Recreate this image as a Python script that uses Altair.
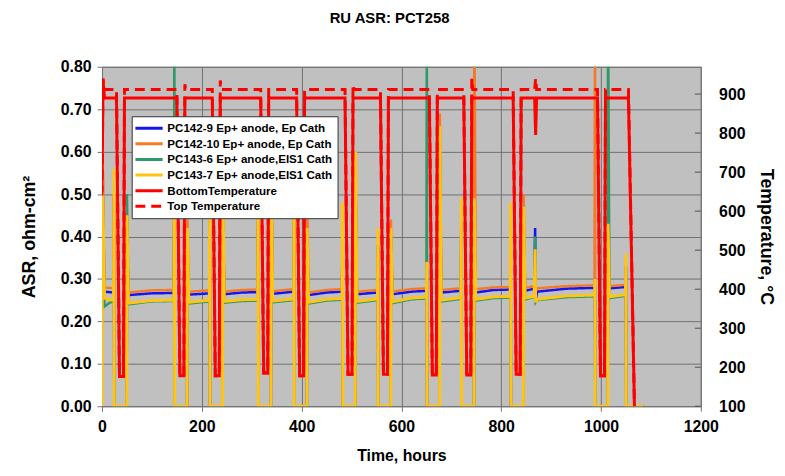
import altair as alt
import pandas as pd

# ---------------- data ----------------
series_names = [
    "PC142-9 Ep+ anode, Ep Cath",
    "PC142-10 Ep+ anode, Ep Cath",
    "PC143-6 Ep+ anode,EIS1 Cath",
    "PC143-7 Ep+ anode,EIS1 Cath",
    "BottomTemperature",
    "Top Temperature",
]
series_colors = ["#1414F0", "#F57A28", "#2E9A6A", "#FFC414", "#FF0000", "#FF0000"]
series_dashes = [[1, 0], [1, 0], [1, 0], [1, 0], [1, 0], [10, 6]]

x_ticks = [0, 200, 400, 600, 800, 1000, 1200]
asr_ticks = [0.0, 0.1, 0.2, 0.3, 0.4, 0.5, 0.6, 0.7, 0.8]
temp_ticks = [100, 200, 300, 400, 500, 600, 700, 800, 900]

asr_hours = [
    0, 0.5, 3, 5, 14, 23,
    24, 24.5, 49.5, 50, 53, 98, 144,
    145, 145.5, 170.5, 171, 174, 215,
    216, 216.5, 241.5, 242, 245, 280, 312,
    313, 313.5, 338.5, 339, 342, 384,
    385, 385.5, 410.5, 411, 414, 450, 481,
    482, 482.5, 507.5, 508, 511, 552,
    553, 553.5, 578.5, 579, 582, 620, 650,
    651, 651.5, 676.5, 677, 680, 719,
    720, 720.5, 745.5, 746, 749, 785, 818,
    819, 819.5, 844.5, 845, 848, 866, 868, 869, 872, 930, 987,
    988, 988.5, 1013.5, 1014, 1017, 1049,
    1050, 1050.5, 1085,
]

asr_pc142_9 = [
    0.67, 0.66, 0.42, 0.270, 0.269, 0.268,
    0.50, 0, 0, 0.40, 0.262, 0.266, 0.267,
    0.55, 0, 0, 0.38, 0.263, 0.266,
    0.50, 0, 0, 0.50, 0.264, 0.268, 0.269,
    0.52, 0, 0, 0.58, 0.265, 0.270,
    0.45, 0, 0, 0.40, 0.262, 0.268, 0.270,
    0.44, 0, 0, 0.55, 0.264, 0.268,
    0.38, 0, 0, 0.40, 0.264, 0.270, 0.272,
    0.30, 0, 0, 0.60, 0.268, 0.272,
    0.44, 0, 0, 0.44, 0.268, 0.274, 0.275,
    0.44, 0, 0, 0.44, 0.272, 0.277, 0.42, 0.25, 0.270, 0.277, 0.279,
    0.28, 0, 0, 0.40, 0.278, 0.281,
    0.33, 0, 0,
]

asr_pc142_10 = [
    0.64, 0.64, 0.35, 0.280, 0.279, 0.278,
    0.50, 0, 0, 0.40, 0.268, 0.273, 0.274,
    0.55, 0, 0, 0.45, 0.270, 0.273,
    0.50, 0, 0, 0.50, 0.270, 0.274, 0.275,
    0.52, 0, 0, 0.58, 0.271, 0.276,
    0.45, 0, 0, 0.50, 0.268, 0.274, 0.276,
    0.44, 0, 0, 0.55, 0.270, 0.274,
    0.38, 0, 0, 0.44, 0.270, 0.276, 0.278,
    0.30, 0, 0, 0.69, 0.274, 0.278,
    0.44, 0, 0, 1.00, 0.276, 0.280, 0.281,
    0.44, 0, 0, 0.50, 0.279, 0.283, 0.30, 0.27, 0.278, 0.283, 0.285,
    1.00, 0, 0, 0.40, 0.283, 0.286,
    0.33, 0, 0,
]

asr_pc143_6 = [
    0.50, 0.40, 0.37, 0.235, 0.243, 0.248,
    0.31, 0, 0, 0.50, 0.240, 0.247, 0.248,
    1.00, 0, 0, 0.38, 0.242, 0.247,
    0.50, 0, 0, 0.50, 0.244, 0.248, 0.249,
    0.52, 0, 0, 0.58, 0.245, 0.250,
    0.45, 0, 0, 0.40, 0.242, 0.249, 0.251,
    0.44, 0, 0, 0.55, 0.244, 0.250,
    0.38, 0, 0, 0.40, 0.243, 0.252, 0.254,
    1.00, 0, 0, 0.60, 0.247, 0.253,
    0.44, 0, 0, 0.44, 0.249, 0.255, 0.256,
    0.44, 0, 0, 0.44, 0.252, 0.257, 0.40, 0.245, 0.250, 0.257, 0.259,
    0.28, 0, 0, 1.00, 0.255, 0.260,
    0.33, 0, 0,
]

asr_pc143_7 = [
    0, 0.63, 0.40, 0.255, 0.251, 0.250,
    0.56, 0, 0, 0.45, 0.243, 0.249, 0.250,
    0.60, 0, 0, 0.42, 0.245, 0.250,
    0.55, 0, 0, 0.55, 0.247, 0.251, 0.252,
    0.57, 0, 0, 0.63, 0.248, 0.253,
    0.50, 0, 0, 0.42, 0.245, 0.252, 0.254,
    0.48, 0, 0, 0.60, 0.247, 0.253,
    0.42, 0, 0, 0.42, 0.246, 0.255, 0.257,
    0.34, 0, 0, 0.66, 0.250, 0.256,
    0.49, 0, 0, 0.49, 0.252, 0.258, 0.259,
    0.48, 0, 0, 0.47, 0.255, 0.259, 0.37, 0.245, 0.252, 0.260, 0.262,
    0.30, 0, 0, 0.43, 0.258, 0.263,
    0.36, 0, 0,
]

bottom_hours = [
    0, 2, 5,
    29, 35, 43, 45,
    150, 156, 164, 166,
    221, 227, 235, 237,
    318, 324, 332, 334,
    390, 396, 404, 406,
    487, 493, 501, 503,
    558, 564, 572, 574,
    656, 662, 670, 672,
    725, 731, 739, 741,
    824, 830, 838, 840,
    867, 869, 871,
    993, 999, 1007, 1009,
    1055, 1067,
]
bottom_temp = [
    650, 935, 890,
    890, 176, 176, 890,
    890, 178, 178, 890,
    890, 178, 178, 890,
    890, 185, 185, 890,
    890, 178, 178, 890,
    890, 182, 182, 890,
    890, 182, 182, 890,
    890, 180, 180, 890,
    890, 180, 180, 890,
    890, 182, 182, 890,
    890, 795, 890,
    890, 178, 178, 890,
    890, 100,
]

top_hours = [
    0, 2, 6,
    29, 35, 43, 45,
    150, 156, 164, 166, 168,
    221, 227, 235, 237, 239,
    318, 324, 332, 334,
    390, 396, 404, 406,
    487, 493, 501, 503, 505,
    558, 564, 572, 574,
    656, 662, 670, 672,
    725, 731, 739, 741, 743,
    824, 830, 838, 840,
    867, 869, 871,
    993, 999, 1007, 1009,
    1055, 1067,
]
top_temp = [
    640, 940, 912,
    912, 176, 176, 912,
    912, 178, 178, 925, 912,
    912, 178, 178, 935, 912,
    912, 185, 185, 912,
    912, 178, 178, 912,
    912, 182, 182, 925, 912,
    912, 182, 182, 912,
    912, 180, 180, 912,
    912, 180, 180, 940, 912,
    912, 182, 182, 912,
    912, 940, 912,
    912, 178, 178, 912,
    912, 100,
]

# ---------------- chart ----------------
FONT = "Liberation Sans"

color_scale = alt.Scale(domain=series_names, range=series_colors)
dash_scale = alt.Scale(domain=series_names, range=series_dashes)
legend = alt.Legend(
    title=None,
    orient="none",
    legendX=30,
    legendY=50,
    fillColor="white",
    strokeColor="#333333",
    padding=5,
    labelFont=FONT,
    labelFontWeight="bold",
    labelFontSize=11.7,
    labelLimit=300,
    labelColor="black",
    symbolType="M-1.5,0L3.5,0",
    symbolSize=121,
    symbolStrokeWidth=3,
    labelOffset=17,
    rowPadding=1.8,
)

x_enc = alt.X(
    "hours:Q",
    scale=alt.Scale(domain=[0, 1200], nice=False),
    axis=alt.Axis(
        values=x_ticks,
        format="d",
        labelFlush=False,
        title="Time, hours",
        grid=True,
        gridColor="#707070",
        domain=False,
        tickSize=5,
        tickColor="#707070",
        labelPadding=8,
        labelFontSize=16,
        titleFontSize=16,
        titlePadding=13,
    ),
)
asr_y = alt.Y(
    "asr:Q",
    scale=alt.Scale(domain=[0, 0.8], nice=False, zero=False),
    axis=alt.Axis(
        values=asr_ticks,
        format=".2f",
        labelFlush=False,
        title="ASR, ohm-cm²",
        grid=True,
        gridColor="#707070",
        domain=False,
        tickSize=5,
        tickColor="#707070",
        labelPadding=6,
        labelFontSize=16,
        titleFontSize=18,
        titlePadding=22,
    ),
)
temp_y = alt.Y(
    "temp:Q",
    scale=alt.Scale(domain=[100, 970], nice=False, zero=False),
    axis=alt.Axis(
        orient="right",
        values=temp_ticks,
        labelFlush=False,
        title="Temperature, °C",
        grid=False,
        domain=False,
        ticks=False,
        labelPadding=18,
        labelFontSize=16,
        titleFontSize=18,
        titlePadding=12,
    ),
)


def asr_layer(name, values, width):
    df = pd.DataFrame({"hours": asr_hours, "asr": values, "series": name})
    return alt.Chart(df).mark_line(clip=True, strokeWidth=width).encode(
        x=x_enc,
        y=asr_y,
        color=alt.Color("series:N", scale=color_scale, legend=legend),
        strokeDash=alt.StrokeDash("series:N", scale=dash_scale, legend=legend),
    )


def temp_layer(name, hours, values):
    df = pd.DataFrame({"hours": hours, "temp": values, "series": name})
    return alt.Chart(df).mark_line(clip=True, strokeWidth=3).encode(
        x=x_enc,
        y=temp_y,
        color=alt.Color("series:N", scale=color_scale, legend=legend),
        strokeDash=alt.StrokeDash("series:N", scale=dash_scale, legend=legend),
    )


left = alt.layer(
    asr_layer(series_names[0], asr_pc142_9, 2.5),
    asr_layer(series_names[1], asr_pc142_10, 2.5),
    asr_layer(series_names[2], asr_pc143_6, 2.5),
    asr_layer(series_names[3], asr_pc143_7, 3),
)

tick_df = pd.DataFrame({"temp": temp_ticks})
right_ticks = alt.Chart(tick_df).mark_rule(color="#505050", strokeWidth=1).encode(
    x=alt.value(599), x2=alt.value(605), y=temp_y
)

right = alt.layer(
    temp_layer(series_names[4], bottom_hours, bottom_temp),
    temp_layer(series_names[5], top_hours, top_temp),
    right_ticks,
)

chart = (
    alt.layer(left, right)
    .resolve_scale(y="independent")
    .properties(
        width=605,
        height=343,
        title=alt.TitleParams("RU ASR: PCT258", fontSize=15, font=FONT, fontWeight="bold", offset=33, dx=-12),
        autosize=alt.AutoSizeParams(type="none"),
        padding={"left": 95, "top": 57, "right": 77, "bottom": 60},
    )
    .configure(font=FONT)
    .configure_view(fill="#C0C0C0", stroke="#707070", strokeWidth=1)
    .configure_axis(
        labelFont=FONT,
        titleFont=FONT,
        labelFontWeight="bold",
        titleFontWeight="bold",
        labelColor="black",
        titleColor="black",
    )
)

chart.save("out.html", embed_options={"renderer": "svg", "actions": False})
